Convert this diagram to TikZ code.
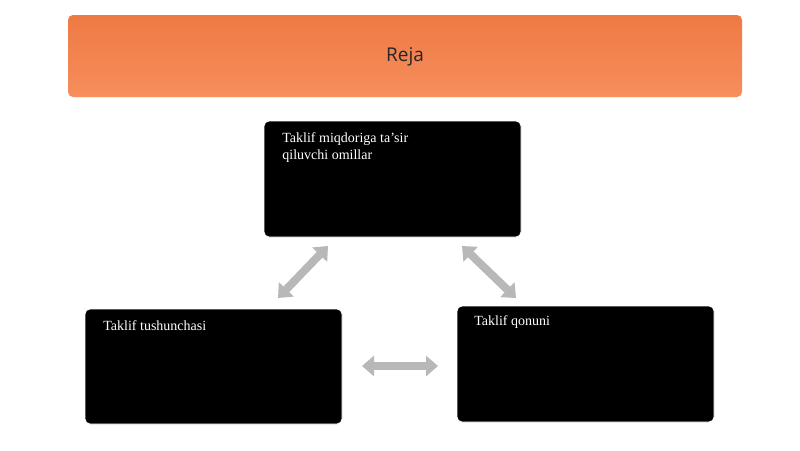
\documentclass[tikz,border=0pt]{standalone}
\usepackage{fontspec}
\setmainfont{Liberation Serif}
\newfontfamily\titlefont{Open Sans}
\usetikzlibrary{arrows.meta}
\definecolor{orA}{HTML}{EE7A44}
\definecolor{orB}{HTML}{F68E5C}
\definecolor{arr}{HTML}{B8B8B8}
\tikzset{
  blk/.style={fill=black,draw=white,line width=0.8pt,rounded corners=5pt,text=white,font=\fontsize{14}{17}\selectfont,align=left,anchor=north west,inner sep=0pt},
  dbl/.style={draw=arr,line width=8pt,{Triangle[length=12pt,width=20pt]}-{Triangle[length=12pt,width=20pt]}}
}
\begin{document}
\begin{tikzpicture}[x=1pt,y=-1pt]
\useasboundingbox (0,0) rectangle (800,450);
\fill[white] (0,0) rectangle (800,450);
\shade[top color=orA,bottom color=orB,rounded corners=5pt] (68,15) rectangle (742,97);
\node[font=\titlefont\fontsize{19}{22}\selectfont,text=black!85] (title) at (405,57) {Reja};
\draw[blk] (264,121) rectangle (521,237);
\draw[blk] (85,309) rectangle (342,424);
\draw[blk] (457,306) rectangle (714,422);
\node[blk,fill=none,draw=none] (top) at (282,132) {Taklif miqdoriga ta’sir\\qiluvchi omillar};
\node[blk,fill=none,draw=none] (left) at (103,320) {Taklif tushunchasi};
\node[blk,fill=none,draw=none] (right) at (474,315) {Taklif qonuni};
\coordinate (a1) at (278,298); \coordinate (a2) at (328,246);
\coordinate (b1) at (462,246); \coordinate (b2) at (516,298);
\coordinate (c1) at (362,366); \coordinate (c2) at (438,366);
\draw[dbl] (a1) -- (a2);
\draw[dbl] (b1) -- (b2);
\draw[dbl] (c1) -- (c2);
\end{tikzpicture}
\end{document}
